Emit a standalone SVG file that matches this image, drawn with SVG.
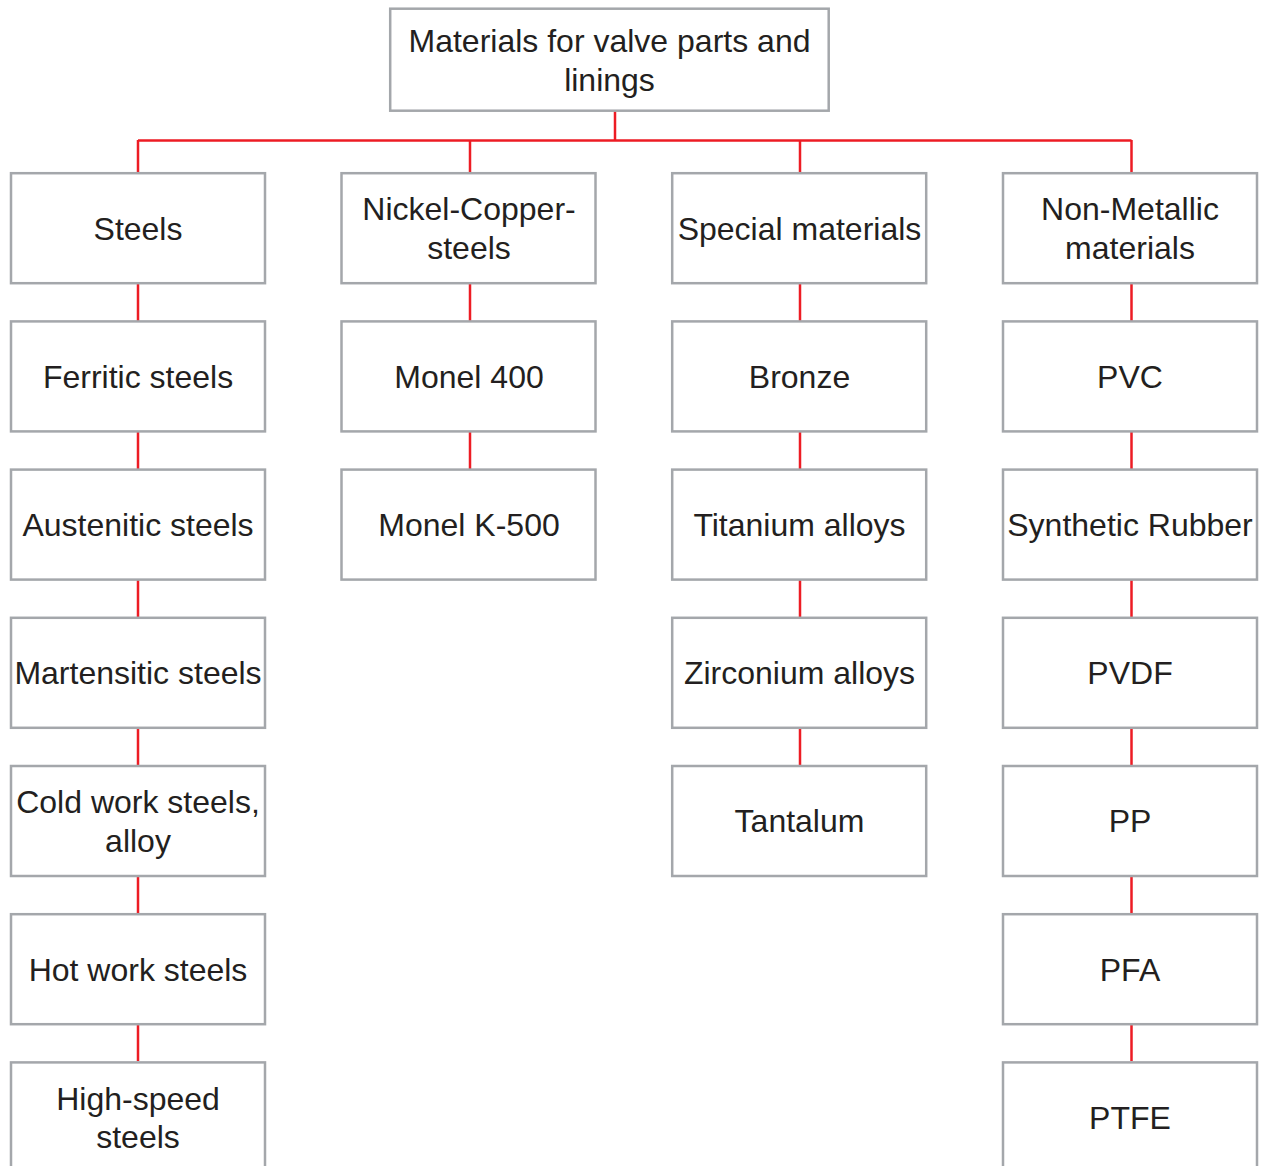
<svg xmlns="http://www.w3.org/2000/svg" width="1261" height="1166" viewBox="0 0 1261 1166">
<style>
.box{fill:#fff;stroke:#a4a7ab;stroke-width:2.5}
.t{font-family:"Liberation Sans",Arial,sans-serif;font-size:32px;fill:#231f20;text-anchor:middle}
.c{stroke:#ed1c24;stroke-width:2.5;fill:none}
</style>
<rect width="1261" height="1166" fill="#fff"/>
<g id="connectors">
<path class="c" d="M615 111V140.5M138 140.5H1131.5M138 140V173M470 140V173M800 140V173M1131.5 140V173"/>
<path class="c" d="M138 284V321M138 432V469M138 580V617M138 729V765M138 877V913M138 1025V1061"/>
<path class="c" d="M470 284V321M470 432V469"/>
<path class="c" d="M800 284V321M800 432V469M800 580V617M800 729V765"/>
<path class="c" d="M1131.5 284V321M1131.5 432V469M1131.5 580V617M1131.5 729V765M1131.5 877V913M1131.5 1025V1061"/>
</g>
<g id="root"><rect class="box" x="390.2" y="8.7" width="438.5" height="102"/><text class="t" x="609.5" y="51.5">Materials for valve parts and</text><text class="t" x="609.5" y="90.5">linings</text></g>

<g id="steels"><rect class="box" x="11" y="173.2" width="254" height="110"/><text class="t" x="138" y="239.5">Steels</text></g>
<g id="ferritic"><rect class="box" x="11" y="321.4" width="254" height="110"/><text class="t" x="138" y="387.5">Ferritic steels</text></g>
<g id="austenitic"><rect class="box" x="11" y="469.6" width="254" height="110"/><text class="t" x="138" y="536">Austenitic steels</text></g>
<g id="martensitic"><rect class="box" x="11" y="617.8" width="254" height="110"/><text class="t" x="138" y="684">Martensitic steels</text></g>
<g id="coldwork"><rect class="box" x="11" y="766" width="254" height="110"/><text class="t" x="138" y="813">Cold work steels,</text><text class="t" x="138" y="851.5">alloy</text></g>
<g id="hotwork"><rect class="box" x="11" y="914.2" width="254" height="110"/><text class="t" x="138" y="980.5">Hot work steels</text></g>
<g id="highspeed"><rect class="box" x="11" y="1062.4" width="254" height="110"/><text class="t" x="138" y="1109.5">High-speed</text><text class="t" x="138" y="1147.5">steels</text></g>

<g id="nickel"><rect class="box" x="341.5" y="173.2" width="254" height="110"/><text class="t" x="469" y="220">Nickel-Copper-</text><text class="t" x="469" y="258.5">steels</text></g>
<g id="monel400"><rect class="box" x="341.5" y="321.4" width="254" height="110"/><text class="t" x="469" y="387.5">Monel 400</text></g>
<g id="monelk500"><rect class="box" x="341.5" y="469.6" width="254" height="110"/><text class="t" x="469" y="536">Monel K-500</text></g>

<g id="special"><rect class="box" x="672.2" y="173.2" width="254" height="110"/><text class="t" x="799.5" y="239.5">Special materials</text></g>
<g id="bronze"><rect class="box" x="672.2" y="321.4" width="254" height="110"/><text class="t" x="799.5" y="387.5">Bronze</text></g>
<g id="titanium"><rect class="box" x="672.2" y="469.6" width="254" height="110"/><text class="t" x="799.5" y="536">Titanium alloys</text></g>
<g id="zirconium"><rect class="box" x="672.2" y="617.8" width="254" height="110"/><text class="t" x="799.5" y="684">Zirconium alloys</text></g>
<g id="tantalum"><rect class="box" x="672.2" y="766" width="254" height="110"/><text class="t" x="799.5" y="832">Tantalum</text></g>

<g id="nonmetallic"><rect class="box" x="1003" y="173.2" width="254" height="110"/><text class="t" x="1130" y="220">Non-Metallic</text><text class="t" x="1130" y="258.5">materials</text></g>
<g id="pvc"><rect class="box" x="1003" y="321.4" width="254" height="110"/><text class="t" x="1130" y="387.5">PVC</text></g>
<g id="rubber"><rect class="box" x="1003" y="469.6" width="254" height="110"/><text class="t" x="1130" y="536">Synthetic Rubber</text></g>
<g id="pvdf"><rect class="box" x="1003" y="617.8" width="254" height="110"/><text class="t" x="1130" y="684">PVDF</text></g>
<g id="pp"><rect class="box" x="1003" y="766" width="254" height="110"/><text class="t" x="1130" y="832">PP</text></g>
<g id="pfa"><rect class="box" x="1003" y="914.2" width="254" height="110"/><text class="t" x="1130" y="980.5">PFA</text></g>
<g id="ptfe"><rect class="box" x="1003" y="1062.4" width="254" height="110"/><text class="t" x="1130" y="1128.5">PTFE</text></g>
</svg>
